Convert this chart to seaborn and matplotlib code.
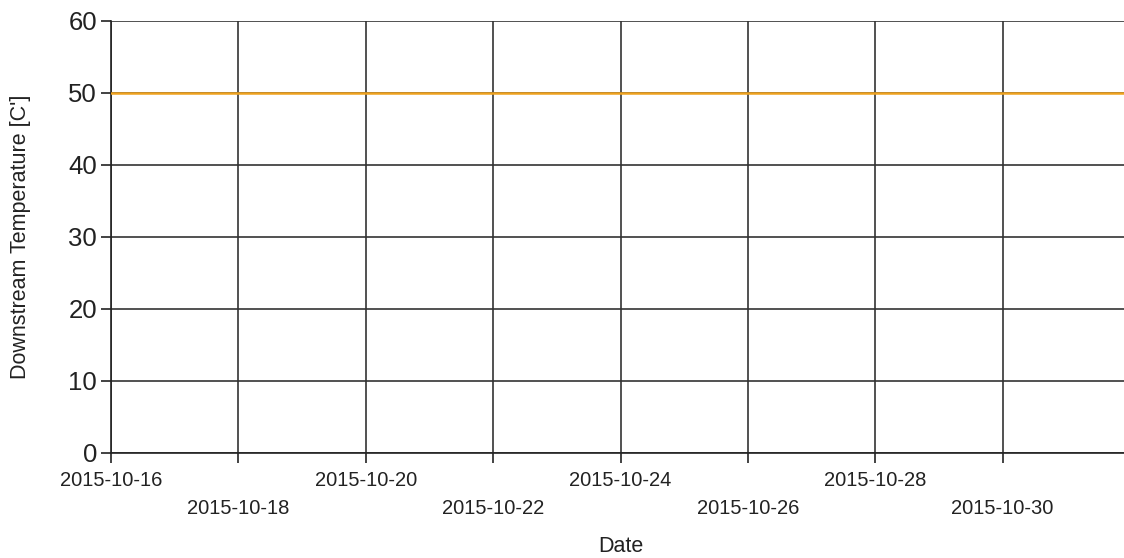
import numpy as np
import pandas as pd
import seaborn as sns
import matplotlib.pyplot as plt

sns.set_style("white")
plt.rcParams['font.family'] = ['Liberation Sans', 'DejaVu Sans']

dates = pd.date_range("2015-10-16", "2015-11-01", freq="D")
temps = [50, 50, 50, 50, 50, 50, 50, 50, 50, 50, 50, 50, 50, 50, 50, 50, 50]
tick_dates = ["2015-10-16", "2015-10-18", "2015-10-20", "2015-10-22",
              "2015-10-24", "2015-10-26", "2015-10-28", "2015-10-30"]
y_ticks = [0, 10, 20, 30, 40, 50, 60]

df = pd.DataFrame({"Date": dates, "Temp": temps})

fig = plt.figure(figsize=(11.24, 5.58), dpi=100)
ax = fig.add_axes([111 / 1124, 105 / 558, 1019 / 1124, 432 / 558])

sns.lineplot(data=df, x="Date", y="Temp", ax=ax, color="#EFA21E", linewidth=1.8, zorder=3)

ax.set_xlim(pd.Timestamp("2015-10-16"), pd.Timestamp("2015-11-01"))
ax.set_ylim(0, 60)
ax.set_yticks(y_ticks)
ax.set_xticks(pd.to_datetime(tick_dates))
# every second date label sits on a lower row
labels = [d if i % 2 == 0 else "\n" + d for i, d in enumerate(tick_dates)]
ax.set_xticklabels(labels, fontsize=14.5, color="#222222", linespacing=1.6)
ax.tick_params(axis="y", labelsize=18.5, colors="#222222", pad=3)
ax.tick_params(bottom=True, left=True, direction="out", length=7, width=1.2, color="#222222")
ax.tick_params(axis="x", pad=6)

ax.grid(True, color="#333333", linewidth=1.2)
for side in ["top", "right"]:
    ax.spines[side].set_visible(False)
for side in ["left", "bottom"]:
    ax.spines[side].set_color("#222222")
    ax.spines[side].set_linewidth(1.2)

ax.set_xlabel("Date", fontsize=15.5, color="#222222", labelpad=13)
ax.set_ylabel("Downstream Temperature [C']", fontsize=15.5, color="#222222", labelpad=27)

fig.savefig("out.png", dpi=100)
